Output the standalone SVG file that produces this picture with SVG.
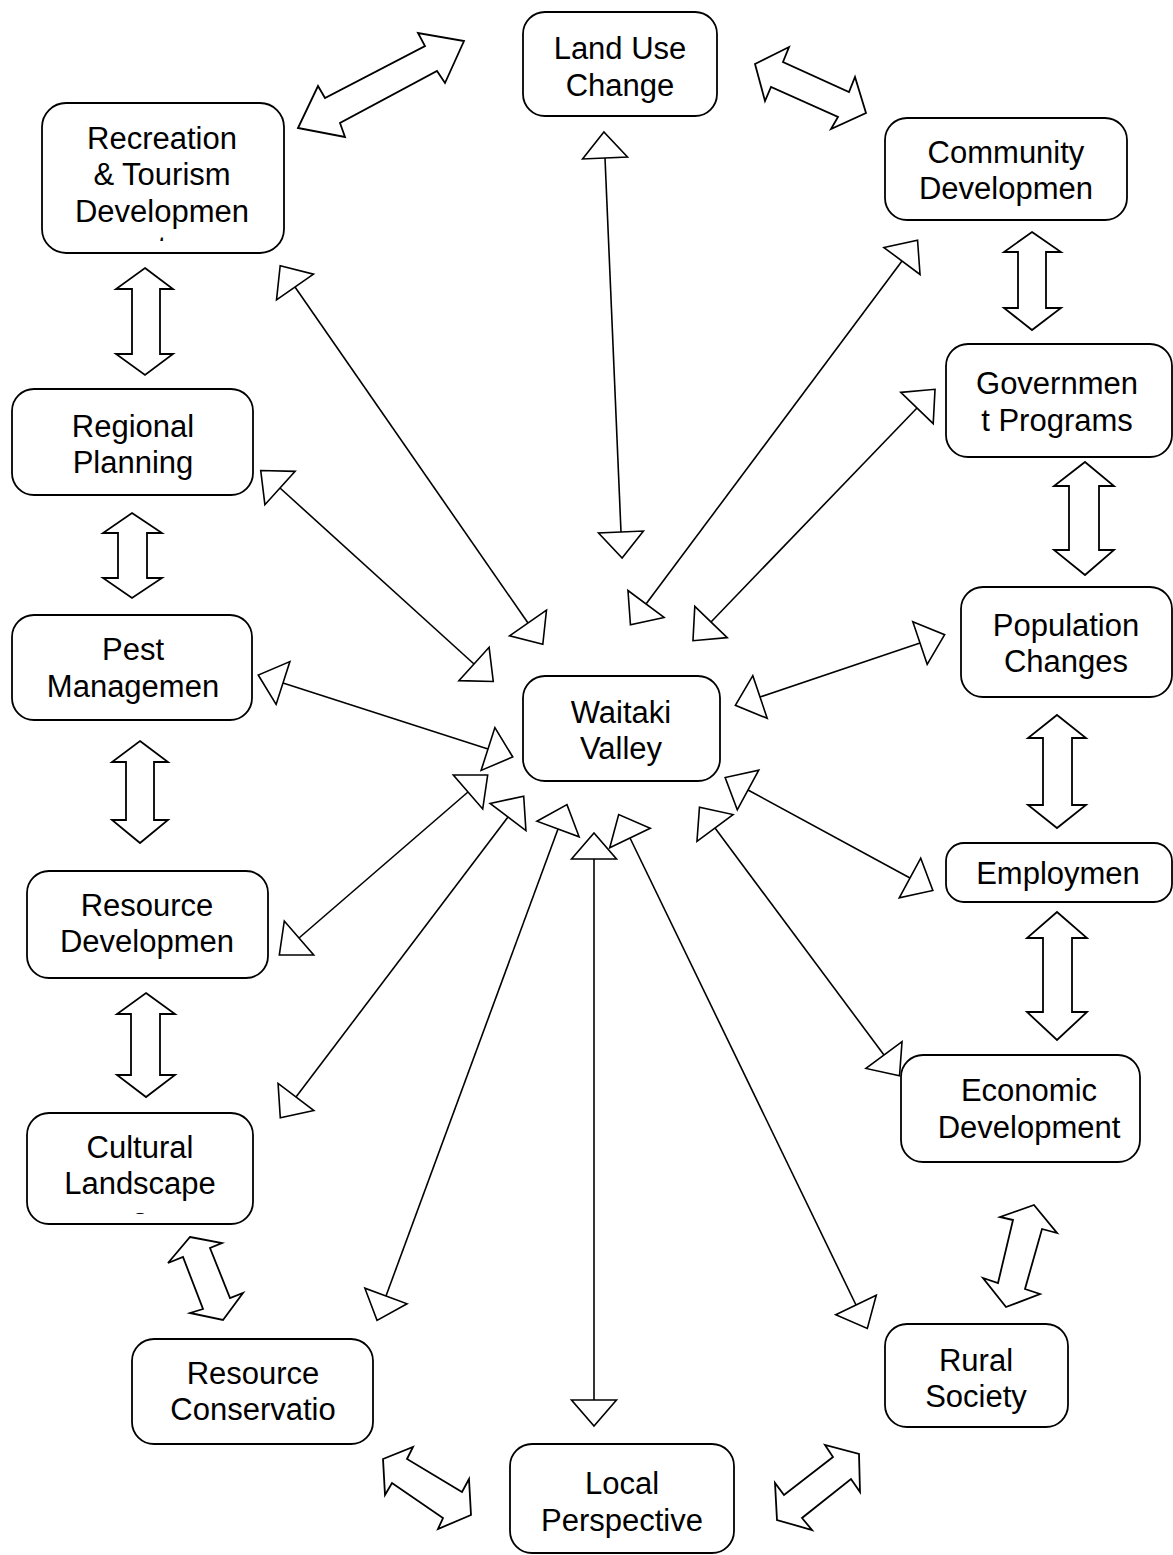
<svg xmlns="http://www.w3.org/2000/svg" width="1173" height="1555" viewBox="0 0 1173 1555">
  <style>
    .box { fill: #ffffff; stroke: #000000; stroke-width: 1.8; }
    .lbl { font-family: "Liberation Sans", Arial, sans-serif; font-size: 31px; fill: #000000; text-anchor: middle; }
    .link { fill: none; stroke: #000000; stroke-width: 1.6; marker-start: url(#tri); marker-end: url(#tri); }
    .block { fill: #ffffff; stroke: #000000; stroke-width: 1.8; stroke-linejoin: miter; }
  </style>
  <defs>
    <marker id="tri" viewBox="-3 -26 34 52" refX="0" refY="0" markerWidth="34" markerHeight="52" markerUnits="userSpaceOnUse" orient="auto-start-reverse">
      <path d="M0,-22.5 L26,0 L0,22.5 Z" fill="#ffffff" stroke="#000000" stroke-width="1.6"/>
    </marker>
    <clipPath id="clipRec"><rect x="42" y="103" width="242" height="138"/></clipPath>
    <clipPath id="clipCul"><rect x="27" y="1113" width="226" height="101"/></clipPath>
  </defs>

  <rect width="1173" height="1555" fill="#ffffff"/>

  <!-- thin two-headed links to the hub -->
  <g id="connectors">
    <line class="link" x1="605" y1="158" x2="621" y2="532"/>
    <line class="link" x1="295" y1="287" x2="528" y2="623"/>
    <line class="link" x1="902" y1="261" x2="646" y2="604"/>
    <line class="link" x1="917" y1="408" x2="711" y2="622"/>
    <line class="link" x1="920" y1="643" x2="760" y2="697"/>
    <line class="link" x1="280" y1="488" x2="474" y2="664"/>
    <line class="link" x1="283" y1="683" x2="488" y2="749"/>
    <line class="link" x1="299" y1="938" x2="468" y2="792"/>
    <line class="link" x1="296" y1="1097" x2="508" y2="817"/>
    <line class="link" x1="386" y1="1296" x2="558" y2="829"/>
    <line class="link" x1="594" y1="1400" x2="594" y2="859"/>
    <line class="link" x1="856" y1="1305" x2="630" y2="838"/>
    <line class="link" x1="884" y1="1055" x2="715" y2="828"/>
    <line class="link" x1="910" y1="878" x2="748" y2="790"/>

    <!-- block arrows between neighbouring topics -->
    <polygon class="block" points="298,128 318,86 325,98 425,46 418,33 464,41 445,83 437,71 340,123 345,137"/>
    <polygon class="block" points="755,64 789,47 783,62 849,92 855,77 866,113 831,129 838,117 771,87 765,101"/>
    <polygon class="block" points="190,1237 222,1243 210,1248 230,1298 243,1293 223,1320 190,1313 203,1309 183,1257 168,1263"/>
    <polygon class="block" points="383,1459 413,1447 407,1459 462,1492 469,1479 471,1515 438,1529 443,1518 392,1483 385,1495"/>
    <polygon class="block" points="859,1454 860,1492 851,1479 802,1518 812,1530 777,1520 775,1483 784,1495 833,1457 825,1445"/>
    <polygon class="block" points="1034,1205 1057,1233 1042,1229 1025,1289 1040,1294 1006,1307 983,1278 998,1283 1013,1220 1000,1217"/>

    <polygon class="block" points="145,268 173,289 160,289 160,354 173,354 145,375 116,354 132,354 132,289 116,289"/>
    <polygon class="block" points="132,513 162,533 147,533 147,578 162,578 132,598 103,578 118,578 118,533 103,533"/>
    <polygon class="block" points="140,741 168,762 154,762 154,820 168,820 140,843 112,820 126,820 126,762 112,762"/>
    <polygon class="block" points="146,993 175,1014 160,1014 160,1075 175,1075 146,1097 117,1075 131,1075 131,1014 117,1014"/>
    <polygon class="block" points="1032,232 1061,252 1046,252 1046,308 1061,308 1032,330 1004,308 1018,308 1018,252 1004,252"/>
    <polygon class="block" points="1085,462 1114,486 1099,486 1099,550 1114,550 1085,575 1054,550 1069,550 1069,486 1054,486"/>
    <polygon class="block" points="1057,715 1086,738 1072,738 1072,805 1086,805 1057,828 1028,805 1043,805 1043,738 1028,738"/>
    <polygon class="block" points="1057,912 1087,938 1072,938 1072,1012 1087,1012 1057,1040 1027,1012 1043,1012 1043,938 1027,938"/>
  </g>

  <g id="land-use-change">
    <rect class="box" x="523" y="12" width="194" height="104" rx="22"/>
    <text class="lbl" x="620" y="59">Land Use</text>
    <text class="lbl" x="620" y="96">Change</text>
  </g>
  <g id="recreation-tourism">
    <rect class="box" x="42" y="103" width="242" height="150" rx="24"/>
    <text class="lbl" x="162" y="149">Recreation</text>
    <text class="lbl" x="162" y="185">&amp; Tourism</text>
    <text class="lbl" x="162" y="222">Developmen</text>
    <text class="lbl" x="162" y="258" clip-path="url(#clipRec)">t</text>
  </g>
  <g id="community-development">
    <rect class="box" x="885" y="118" width="242" height="102" rx="22"/>
    <text class="lbl" x="1006" y="163">Community</text>
    <text class="lbl" x="1006" y="199">Developmen</text>
  </g>
  <g id="government-programs">
    <rect class="box" x="946" y="344" width="226" height="113" rx="22"/>
    <text class="lbl" x="1057" y="394">Governmen</text>
    <text class="lbl" x="1057" y="431">t Programs</text>
  </g>
  <g id="regional-planning">
    <rect class="box" x="12" y="389" width="241" height="106" rx="22"/>
    <text class="lbl" x="133" y="437">Regional</text>
    <text class="lbl" x="133" y="473">Planning</text>
  </g>
  <g id="population-changes">
    <rect class="box" x="961" y="587" width="211" height="110" rx="22"/>
    <text class="lbl" x="1066" y="636">Population</text>
    <text class="lbl" x="1066" y="672">Changes</text>
  </g>
  <g id="pest-management">
    <rect class="box" x="12" y="615" width="240" height="105" rx="22"/>
    <text class="lbl" x="133" y="660">Pest</text>
    <text class="lbl" x="133" y="697">Managemen</text>
  </g>
  <g id="waitaki-valley">
    <rect class="box" x="523" y="676" width="197" height="105" rx="22"/>
    <text class="lbl" x="621" y="723">Waitaki</text>
    <text class="lbl" x="621" y="759">Valley</text>
  </g>
  <g id="employment">
    <rect class="box" x="946" y="843" width="226" height="59" rx="18"/>
    <text class="lbl" x="1058" y="884">Employmen</text>
  </g>
  <g id="resource-development">
    <rect class="box" x="27" y="871" width="241" height="107" rx="22"/>
    <text class="lbl" x="147" y="916">Resource</text>
    <text class="lbl" x="147" y="952">Developmen</text>
  </g>
  <g id="economic-development">
    <rect class="box" x="901" y="1055" width="239" height="107" rx="22"/>
    <text class="lbl" x="1029" y="1101">Economic</text>
    <text class="lbl" x="1029" y="1138">Development</text>
  </g>
  <g id="cultural-landscape">
    <rect class="box" x="27" y="1113" width="226" height="111" rx="22"/>
    <text class="lbl" x="140" y="1158">Cultural</text>
    <text class="lbl" x="140" y="1194">Landscape</text>
    <text class="lbl" x="140" y="1230" clip-path="url(#clipCul)">s</text>
  </g>
  <g id="rural-society">
    <rect class="box" x="885" y="1324" width="183" height="103" rx="22"/>
    <text class="lbl" x="976" y="1371">Rural</text>
    <text class="lbl" x="976" y="1407">Society</text>
  </g>
  <g id="resource-conservation">
    <rect class="box" x="132" y="1339" width="241" height="105" rx="22"/>
    <text class="lbl" x="253" y="1384">Resource</text>
    <text class="lbl" x="253" y="1420">Conservatio</text>
  </g>
  <g id="local-perspective">
    <rect class="box" x="510" y="1444" width="224" height="109" rx="22"/>
    <text class="lbl" x="622" y="1494">Local</text>
    <text class="lbl" x="622" y="1531">Perspective</text>
  </g>
</svg>
